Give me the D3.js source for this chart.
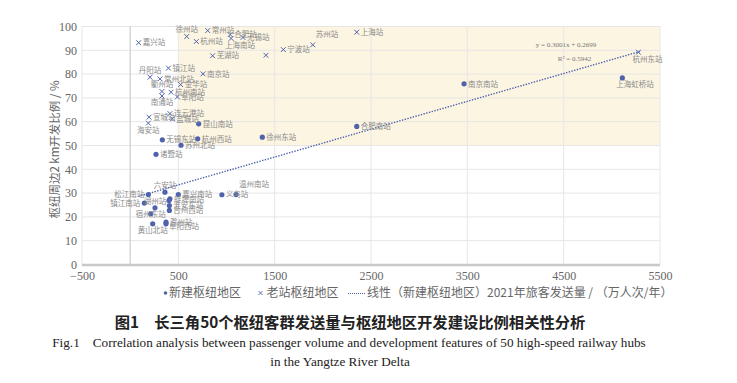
<!DOCTYPE html>
<html><head><meta charset="utf-8">
<script src="https://cdn.jsdelivr.net/npm/d3@7"></script>
<style>body{margin:0;background:#fff}</style>
</head><body>
<svg id="c" width="737" height="383"></svg>
<script>
// ---- data ----
const xTicks = [-500, 500, 1500, 2500, 3500, 4500, 5500];
const yTicks = [0, 10, 20, 30, 40, 50, 60, 70, 80, 90, 100];

// new hub areas (filled dots)
const newNames = ["上海虹桥站","南京南站","合肥南站","徐州东站","昆山南站","杭州西站","苏州北站","无锡东站","诸暨站",
  "温州南站","义乌站","嘉兴南站","六安站","松江南站","镇江南站","湖州站","蚌埠南站","淮安东站","台州西站",
  "宿州东站","滁州站","阜阳西站","黄山北站",""];
const newX = [5109,3466,2352,1372,711,701,528,334,268, 1099,952,500,361,189,147,258,413,407,407, 213,372,372,234,403];
const newY = [78.4,75.9,58.0,53.5,59.1,52.8,50.1,52.4,46.3, 29.4,29.3,29.4,30.4,29.4,25.8,23.8,27.6,24.8,22.7, 21.3,17.8,17.1,17.1,26.9];
const newPos = ["br","r","r","r","r","r","r","r","r", "ar","r","r","ac","l","l","a","r","r","r", "c","r","br2","b","r"];

// old station areas (crosses)
const oldNames = ["杭州东站","上海站","苏州站","宁波站","","芜湖站","常州站","徐州站","杭州站","合肥站","上海南站","无锡站",
  "嘉兴站","镇江站","丹阳站","常州北站","南京站","金华站","衢州站","杭州南站","阜阳站","南通站","宣城站","连云港站","盐城站","海安站"];
const oldX = [5276,2352,1895,1590,1410,856,805,587,687,1038,1048,1171, 88,397,206,310,756,524,330,424,490,330,196,413,438,189];
const oldY = [89.2,97.6,92.3,90.3,87.9,87.7,98.3,95.8,93.7,96.6,95.0,95.4, 93.2,82.5,78.7,78.0,80.1,75.6,72.7,72.4,70.4,70.8,61.9,63.4,61.2,59.4];
const oldPos = ["br","r","ar","r","r","r","r","a","r","r","br","r", "r","r","a","r","r","r","a","r","r","b","r","r","r","b"];

// linear trend (new hub areas), as drawn in the chart
const trendSlope = 0.0117, trendIntercept = 27.6, trendDomain = [85, 5300];
const equationLines = ["y = 0.3001x + 0.2699", "R² = 0.5942"];

const legendItems = ["新建枢纽地区", "老站枢纽地区", "线性（新建枢纽地区）2021年旅客发送量 / （万人次/年）"];
const yTitle = "枢纽周边2 km开发比例 / %";
const titleCN = "图1　长三角50个枢纽客群发送量与枢纽地区开发建设比例相关性分析";
const titleEN1 = "Fig.1　Correlation analysis between passenger volume and development features of 50 high-speed railway hubs";
const titleEN2 = "in the Yangtze River Delta";

// ---- drawing ----
const svg = d3.select("#c");
const x = d3.scaleLinear().domain([-500, 5500]).range([82, 660]);
const y = d3.scaleLinear().domain([0, 100]).range([264.5, 26.5]);
const BLUE = "#4f63ad", GRID = "#e6e6e6", TXT = "#666";
const serif = "'Liberation Serif','DejaVu Serif',serif";
const cjk = "'Noto Sans CJK SC','Noto Sans',sans-serif";

// shaded region
svg.append("rect").attr("x", x(500)).attr("y", y(100)).attr("width", x(5500) - x(500)).attr("height", y(50) - y(100))
  .attr("fill", "#fcf5e2");

// gridlines
svg.append("g").selectAll("line").data(yTicks.filter(d => d > 0)).join("line")
  .attr("x1", x(-500)).attr("x2", x(5500)).attr("y1", d => y(d)).attr("y2", d => y(d))
  .attr("stroke", GRID).attr("stroke-width", 1);
svg.append("g").selectAll("line").data(xTicks).join("line")
  .attr("x1", d => x(d)).attr("x2", d => x(d)).attr("y1", y(0)).attr("y2", y(100))
  .attr("stroke", GRID).attr("stroke-width", 1);
// y axis at x=0
svg.append("line").attr("x1", x(0)).attr("x2", x(0)).attr("y1", y(0)).attr("y2", y(100))
  .attr("stroke", "#cfcfcf").attr("stroke-width", 1.3);
// x axis line
svg.append("line").attr("x1", x(-500)).attr("x2", x(5500)).attr("y1", y(0) + 0.5).attr("y2", y(0) + 0.5)
  .attr("stroke", "#c8c8c8").attr("stroke-width", 2.5);

// axes labels via d3 axes
const xAxis = svg.append("g").attr("transform", `translate(0,${y(0)})`)
  .call(d3.axisBottom(x).tickValues(xTicks).tickSize(0).tickPadding(7).tickFormat(d => d < 0 ? "−" + Math.abs(d) : d));
const yAxis = svg.append("g").attr("transform", `translate(${x(-500)},0)`)
  .call(d3.axisLeft(y).tickValues(yTicks).tickSize(0).tickPadding(5));
[xAxis, yAxis].forEach(g => {
  g.select(".domain").remove();
  g.selectAll("text").attr("font-family", serif).attr("font-size", 12).attr("fill", TXT);
});

svg.append("text").attr("transform", `translate(59,${(y(0) + y(100)) / 2 + 4}) rotate(-90)`)
  .attr("text-anchor", "middle").attr("font-family", cjk).attr("font-size", 11.5).attr("fill", TXT).text(yTitle);

// trend line
svg.append("line")
  .attr("x1", x(trendDomain[0])).attr("y1", y(trendIntercept + trendSlope * trendDomain[0]))
  .attr("x2", x(trendDomain[1])).attr("y2", y(trendIntercept + trendSlope * trendDomain[1]))
  .attr("stroke", BLUE).attr("stroke-width", 1.4).attr("stroke-dasharray", "1.4,1.4");
svg.append("g").selectAll("text").data(equationLines).join("text")
  .attr("x", (d, i) => x(i ? 4612 : 4524)).attr("y", (d, i) => y(i ? 86.5 : 92.6) + 2.5)
  .attr("text-anchor", "middle").attr("font-family", serif).attr("font-size", 7).attr("fill", "#777").text(d => d);

// label helper
function labelAttrs(sel, xs, ys, pos) {
  sel.attr("x", (d, i) => {
      const p = pos[i], cx = x(xs[i]);
      if (p === "r") return cx + 4;
      if (p === "l") return cx - 4;
      if (p === "ar") return cx + 3;
      if (p === "br") return cx - 6;
      if (p === "br2") return cx + 3;
      return cx;
    })
    .attr("y", (d, i) => {
      const p = pos[i], cy = y(ys[i]);
      if (p === "a" || p === "ac") return cy - 4;
      if (p === "ar") return cy - 8;
      if (p === "b" || p === "br") return cy + 9.5;
      if (p === "br2") return cy + 5.5;
      return cy + 2.7;
    })
    .attr("text-anchor", (d, i) => {
      const p = pos[i];
      if (p === "l") return "end";
      if (p === "a" || p === "ac" || p === "b" || p === "c") return "middle";
      return "start";
    })
    .attr("font-family", cjk).attr("font-size", 7.5).attr("fill", "#8a8a8a");
}

// old station crosses
const oldIdx = d3.range(oldNames.length);
const cs = 2.4;
svg.append("g").selectAll("path").data(oldIdx).join("path")
  .attr("d", i => { const cx = x(oldX[i]), cy = y(oldY[i]);
    return `M${cx - cs},${cy - cs}L${cx + cs},${cy + cs}M${cx - cs},${cy + cs}L${cx + cs},${cy - cs}`; })
  .attr("stroke", BLUE).attr("stroke-width", 1).attr("fill", "none");
// new hub dots
const newIdx = d3.range(newNames.length);
svg.append("g").selectAll("circle").data(newIdx).join("circle")
  .attr("cx", i => x(newX[i])).attr("cy", i => y(newY[i])).attr("r", 2.6).attr("fill", BLUE);

svg.append("g").selectAll("text").data(oldNames).join("text").call(labelAttrs, oldX, oldY, oldPos).text(d => d);
svg.append("g").selectAll("text").data(newNames).join("text").call(labelAttrs, newX, newY, newPos).text(d => d);

// legend
const lg = svg.append("g").attr("font-family", cjk).attr("font-size", 12).attr("fill", TXT);
const ly = 293;
lg.append("circle").attr("cx", 165.5).attr("cy", ly).attr("r", 1.8).attr("fill", BLUE);
lg.append("text").attr("x", 169).attr("y", ly + 4.3).text(legendItems[0]);
lg.append("path").attr("d", `M258.5,${ly - 2}L262.5,${ly + 2}M258.5,${ly + 2}L262.5,${ly - 2}`).attr("stroke", BLUE).attr("stroke-width", 0.9);
lg.append("text").attr("x", 266.5).attr("y", ly + 4.3).text(legendItems[1]);
lg.append("line").attr("x1", 348).attr("x2", 366).attr("y1", ly + 0.5).attr("y2", ly + 0.5)
  .attr("stroke", BLUE).attr("stroke-width", 1).attr("stroke-dasharray", "1,1");
lg.append("text").attr("x", 367).attr("y", ly + 4.3).text(legendItems[2]);

// titles
svg.append("text").attr("x", 350).attr("y", 328).attr("text-anchor", "middle")
  .attr("font-family", cjk).attr("font-weight", "bold").attr("font-size", 15.3).attr("fill", "#222").text(titleCN);
svg.append("text").attr("x", 349).attr("y", 347).attr("text-anchor", "middle")
  .attr("font-family", serif).attr("font-size", 13.2).attr("fill", "#222").text(titleEN1);
svg.append("text").attr("x", 340).attr("y", 366).attr("text-anchor", "middle")
  .attr("font-family", serif).attr("font-size", 13.2).attr("fill", "#222").text(titleEN2);
</script>
</body></html>
